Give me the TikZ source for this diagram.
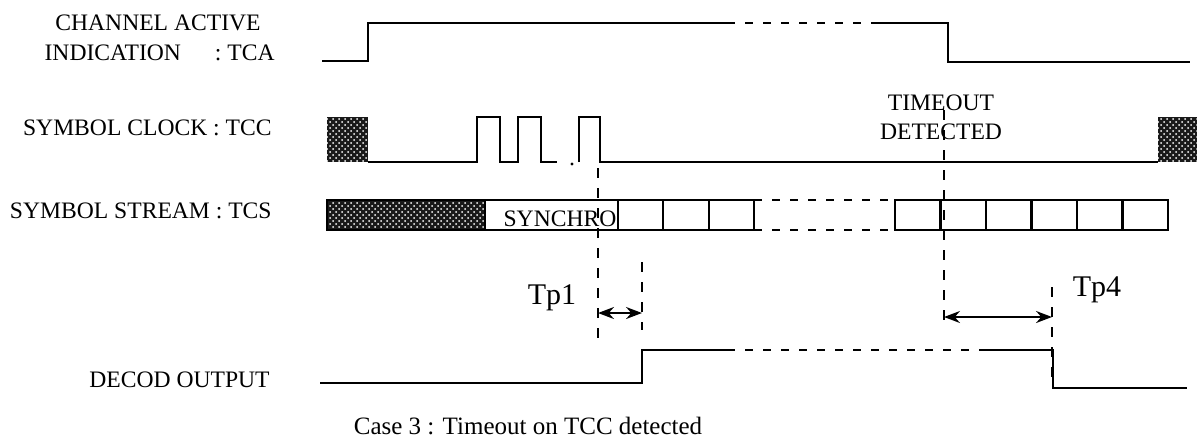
\documentclass[tikz,border=0pt]{standalone}
\usepackage{fontspec}
\setmainfont{Liberation Serif}
\usetikzlibrary{patterns,arrows.meta}
\tikzset{
  wave/.style={line width=1.3pt},
  wavedash/.style={line width=1.3pt, dash pattern=on 4pt off 5pt},
  marker/.style={line width=1.1pt, dash pattern=on 5pt off 5pt},
  hatchbox/.style={fill=black!90, postaction={pattern=crosshatch dots, pattern color=white}},
  siglabel/.style={anchor=east, inner sep=0pt, font=\fontsize{11.8}{13}\selectfont},
  tplabel/.style={inner sep=0pt, font=\fontsize{15}{17}\selectfont},
}
\begin{document}
\begin{tikzpicture}[x=0.5pt,y=-0.5pt,>=Stealth]
  \useasboundingbox (0,0) rectangle (1197,446);
  % signal names
  \node[inner sep=0pt, font=\fontsize{11.8}{13}\selectfont] (chan) at (158,23) {CHANNEL ACTIVE};
  \node[siglabel] (tca) at (275,53) {INDICATION\hspace{17pt}: TCA};
  \node[siglabel] (tcc) at (272,128) {SYMBOL CLOCK : TCC};
  \node[siglabel] (tcs) at (272,211) {SYMBOL STREAM : TCS};
  \node[siglabel] (dec) at (270,380) {DECOD OUTPUT};
  % TCA
  \draw[wave] (322,61) -- (368,61) -- (368,23) -- (727,23);
  \draw[wavedash] (727,23) -- (878,23);
  \draw[wave] (878,23) -- (948,23) -- (948,62) -- (1190,62);
  % TCC
  \fill[hatchbox] (327,117) rectangle (368,162);
  \draw[wave] (368,162) -- (477,162) -- (477,117) -- (500,117) -- (500,162) -- (518,162)
    -- (518,117) -- (541,117) -- (541,162) -- (557,162);
  \fill (572,164) circle (1.6);
  \draw[wave] (579,162) -- (579,117) -- (600,117) -- (600,162) -- (1158,162);
  \fill[hatchbox] (1158,117) rectangle (1197,162);
  % TCS
  \fill[hatchbox] (327,200) rectangle (485,230);
  \draw[wave] (327,200) rectangle (754,230);
  \foreach \x in {485,618,663,709} \draw[wave] (\x,200) -- (\x,230);
  \node[inner sep=0pt, font=\fontsize{11.8}{13}\selectfont] (sync) at (560,219) {SYNCHRO};
  \draw[wavedash] (754,200) -- (895,200);
  \draw[wavedash] (754,230) -- (895,230);
  \draw[wave] (895,200) rectangle (1168,230);
  \foreach \x in {940.5,986,1031.5,1077,1122.5} \draw[wave] (\x,200) -- (\x,230);
  % DECOD
  \draw[wave] (320,383) -- (642,383) -- (642,350) -- (727,350);
  \draw[wavedash] (727,350) -- (983,350);
  \draw[wave] (983,350) -- (1053,350) -- (1053,388) -- (1187,388);
  % timing marks
  \node[inner sep=0pt, align=center, font=\fontsize{11.8}{14.5}\selectfont] (tout) at (941,117) {TIMEOUT\\DETECTED};
  \coordinate (m1top) at (598,168);  \coordinate (m1bot) at (598,340);
  \coordinate (m2top) at (642,262);  \coordinate (m2bot) at (642,330);
  \coordinate (m3top) at (944,110);  \coordinate (m3bot) at (944,322);
  \coordinate (m4top) at (1052,287); \coordinate (m4bot) at (1052,385);
  \draw[marker] (m1top) -- (m1bot);
  \draw[marker] (m2top) -- (m2bot);
  \draw[marker] (m3top) -- (m3bot);
  \draw[marker] (m4top) -- (m4bot);
  \coordinate (a1) at (598,313); \coordinate (b1) at (642,313);
  \coordinate (a4) at (944,317); \coordinate (b4) at (1052,317);
  \draw[<->, line width=1.1pt] (a1) -- (b1);
  \draw[<->, line width=1.1pt] (a4) -- (b4);
  \node[tplabel] (tp1) at (552,298) {Tp1};
  \node[tplabel] (tp4) at (1097,290) {Tp4};
  % caption
  \node[inner sep=0pt, font=\fontsize{12.5}{14}\selectfont] (cap) at (528,426) {Case 3 : Timeout on TCC detected};
\end{tikzpicture}
\end{document}
